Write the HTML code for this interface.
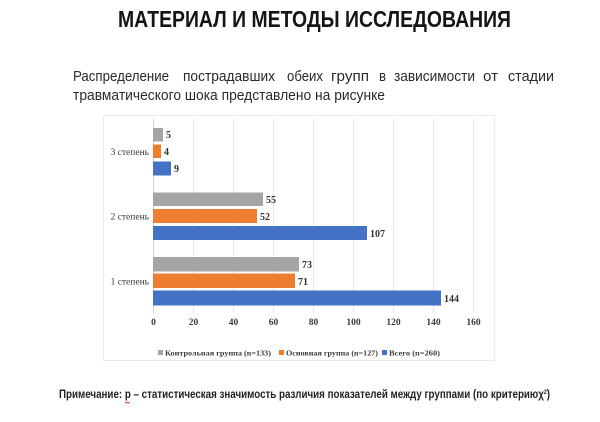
<!DOCTYPE html>
<html><head><meta charset="utf-8"><style>
html,body{margin:0;padding:0;background:#fff;}
svg{display:block;}
</style></head><body>
<svg width="600" height="422" viewBox="0 0 600 422" xmlns="http://www.w3.org/2000/svg">
<rect width="600" height="422" fill="#fff"/>
<!-- Title -->
<text x="118" y="27" font-family="Liberation Sans, sans-serif" font-weight="bold" font-size="23" fill="#151515" textLength="393" lengthAdjust="spacingAndGlyphs">МАТЕРИАЛ И МЕТОДЫ ИССЛЕДОВАНИЯ</text>
<!-- Paragraph line 1 (justified) -->
<g font-family="Liberation Sans, sans-serif" font-size="15" fill="#2a2a2a">
<text x="73" y="81" textLength="96" lengthAdjust="spacingAndGlyphs">Распределение</text>
<text x="183" y="81" textLength="92" lengthAdjust="spacingAndGlyphs">пострадавших</text>
<text x="287" y="81" textLength="36" lengthAdjust="spacingAndGlyphs">обеих</text>
<text x="331" y="81" textLength="38" lengthAdjust="spacingAndGlyphs">групп</text>
<text x="379" y="81" textLength="7" lengthAdjust="spacingAndGlyphs">в</text>
<text x="394" y="81" textLength="81" lengthAdjust="spacingAndGlyphs">зависимости</text>
<text x="483" y="81" textLength="15" lengthAdjust="spacingAndGlyphs">от</text>
<text x="508" y="81" textLength="46" lengthAdjust="spacingAndGlyphs">стадии</text>
<text x="73" y="100" textLength="312" lengthAdjust="spacingAndGlyphs">травматического шока представлено на рисунке</text>
</g>
<!-- Chart box -->
<rect x="103.5" y="115.5" width="391" height="245" fill="#fff" stroke="#ececec" stroke-width="1"/>
<!-- gridlines -->
<g stroke="#e6e6e6" stroke-width="1">
<line x1="193.5" y1="119" x2="193.5" y2="313"/>
<line x1="233.5" y1="119" x2="233.5" y2="313"/>
<line x1="273.5" y1="119" x2="273.5" y2="313"/>
<line x1="313.5" y1="119" x2="313.5" y2="313"/>
<line x1="353.5" y1="119" x2="353.5" y2="313"/>
<line x1="393.5" y1="119" x2="393.5" y2="313"/>
<line x1="433.5" y1="119" x2="433.5" y2="313"/>
<line x1="473.5" y1="119" x2="473.5" y2="313"/>
</g>
<line x1="153.5" y1="119" x2="153.5" y2="313" stroke="#d4d4d4" stroke-width="1"/>
<!-- bars: 3 степень -->
<rect x="153" y="128" width="10" height="13.5" fill="#a5a5a5"/>
<rect x="153" y="144.5" width="8" height="13.5" fill="#ed7d31"/>
<rect x="153" y="161.5" width="18" height="14" fill="#4472c4"/>
<!-- 2 степень -->
<rect x="153" y="192.5" width="110" height="13.5" fill="#a5a5a5"/>
<rect x="153" y="209" width="104" height="14" fill="#ed7d31"/>
<rect x="153" y="226" width="214" height="14" fill="#4472c4"/>
<!-- 1 степень -->
<rect x="153" y="257" width="146" height="14.5" fill="#a5a5a5"/>
<rect x="153" y="273.5" width="142" height="14.5" fill="#ed7d31"/>
<rect x="153" y="290.5" width="288" height="15" fill="#4472c4"/>
<!-- value labels -->
<g font-family="Liberation Serif, serif" font-weight="bold" font-size="10" fill="#333">
<text x="166" y="138">5</text>
<text x="164" y="155">4</text>
<text x="174" y="172">9</text>
<text x="266" y="203">55</text>
<text x="260" y="220">52</text>
<text x="370" y="237">107</text>
<text x="302" y="268">73</text>
<text x="298" y="285">71</text>
<text x="444" y="302">144</text>
</g>
<!-- category labels -->
<g font-family="Liberation Serif, serif" font-size="9.5" fill="#3a3a3a" text-anchor="end">
<text x="149" y="155">3 степень</text>
<text x="149" y="219.5">2 степень</text>
<text x="149" y="284.5">1 степень</text>
</g>
<!-- x tick labels -->
<g font-family="Liberation Serif, serif" font-weight="bold" font-size="9.5" fill="#3a3a3a" text-anchor="middle">
<text x="153.5" y="325">0</text>
<text x="193.5" y="325">20</text>
<text x="233.5" y="325">40</text>
<text x="273.5" y="325">60</text>
<text x="313.5" y="325">80</text>
<text x="353.5" y="325">100</text>
<text x="393.5" y="325">120</text>
<text x="433.5" y="325">140</text>
<text x="473.5" y="325">160</text>
</g>
<!-- legend -->
<rect x="158" y="350" width="5" height="5" fill="#a5a5a5"/>
<rect x="279" y="350" width="5" height="5" fill="#ed7d31"/>
<rect x="382" y="350" width="5" height="5" fill="#4472c4"/>
<g font-family="Liberation Serif, serif" font-weight="bold" font-size="7.5" fill="#3a3a3a">
<text x="165" y="355.5" textLength="106" lengthAdjust="spacingAndGlyphs">Контрольная группа (n=133)</text>
<text x="286" y="355.5" textLength="92" lengthAdjust="spacingAndGlyphs">Основная группа (n=127)</text>
<text x="389" y="355.5" textLength="51" lengthAdjust="spacingAndGlyphs">Всего (n=260)</text>
</g>
<!-- footnote -->
<text x="59" y="398" font-family="Liberation Sans, sans-serif" font-weight="bold" font-size="11.5" fill="#222" textLength="491" lengthAdjust="spacingAndGlyphs">Примечание: p – статистическая значимость различия показателей между группами (по критериюχ<tspan font-size="6" dy="-4">2</tspan><tspan dy="4">)</tspan></text>
<path d="M125 402 l1.2 1.2 l1.2 -1.2 l1.2 1.2 l1.2 -1.2" stroke="#d33" stroke-width="0.8" fill="none"/>
</svg>
</body></html>
